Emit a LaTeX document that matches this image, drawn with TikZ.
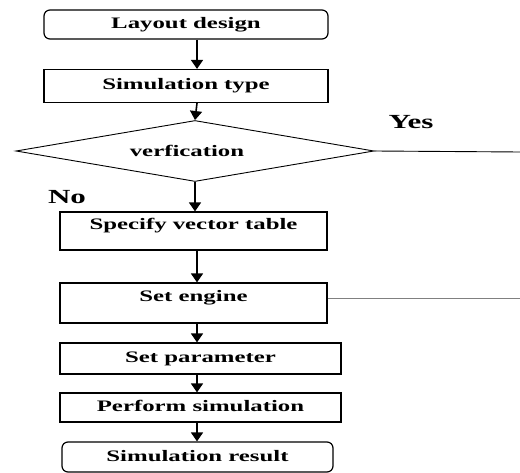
\documentclass[tikz,border=0pt]{standalone}
\usepackage{fontspec}
\setmainfont[FakeStretch=1.55]{Liberation Serif}
\usetikzlibrary{shapes.geometric,arrows.meta}
\begin{document}
\begin{tikzpicture}[x=1pt,y=-1pt,
		box/.style={draw,line width=1.2pt,inner sep=0pt,text height=11pt,text depth=3pt,font=\fontsize{16}{18}\selectfont\bfseries},
		raised/.style={text depth=14pt},
		endbox/.style={box,rounded corners=6pt},
		test/.style={draw,diamond,shape aspect=6,line width=0.9pt,inner sep=0pt,font=\fontsize{16}{18}\selectfont\bfseries},
		tag/.style={font=\fontsize{20}{22}\selectfont\bfseries},
		flow/.style={line width=1.6pt,-{Triangle[width=12pt,length=9pt]}},
		branch/.style={line width=0.9pt}]
		\useasboundingbox (0,0) rectangle (520,473);
		\coordinate (spine) at (197,0);
		% steps
		\node[endbox,minimum width=284pt,minimum height=29pt] (layout) at (186,24.5) {Layout design};
		\node[box,minimum width=284pt,minimum height=33pt] (simtype) at (186,86) {Simulation type};
		\node[test,minimum width=358pt,minimum height=61pt] (verif) at (195,151) {verfication\hspace*{16pt}};
		\node[box,raised,minimum width=267pt,minimum height=38pt] (spec) at (193.5,231) {Specify vector table};
		\node[box,raised,minimum width=267pt,minimum height=40pt] (engine) at (193.5,303) {Set engine};
		\node[box,minimum width=281pt,minimum height=31pt] (param) at (200.5,358.5) {Set parameter};
		\node[box,minimum width=281pt,minimum height=29pt] (perform) at (200.5,407.5) {Perform simulation};
		\node[endbox,minimum width=271pt,minimum height=30pt] (result) at (197.5,457) {Simulation result};
		% labels
		\node[tag] (yes) at (411,122) {Yes};
		\node[tag] (no) at (67,197) {No};
		% arrows
		\draw[flow] (layout.south -| spine) -- (simtype.north -| spine);
		\draw[flow] (simtype.south -| spine) -- (verif.north);
		\draw[flow] (verif.south) -- (spec.north -| verif.south);
		\draw[flow] (spec.south -| spine) -- (engine.north -| spine);
		\draw[flow] (engine.south -| spine) -- (param.north -| spine);
		\draw[flow] (param.south -| spine) -- (perform.north -| spine);
		\draw[flow] (perform.south -| spine) -- (result.north -| spine);
		% side lines
		\coordinate (yesend) at (520,152);
		\coordinate (engend) at (520,298);
		\draw[branch] (verif.east) -- (yesend);
		\draw[branch,gray] (engine.east |- engend) -- (engend);
\end{tikzpicture}
\end{document}
